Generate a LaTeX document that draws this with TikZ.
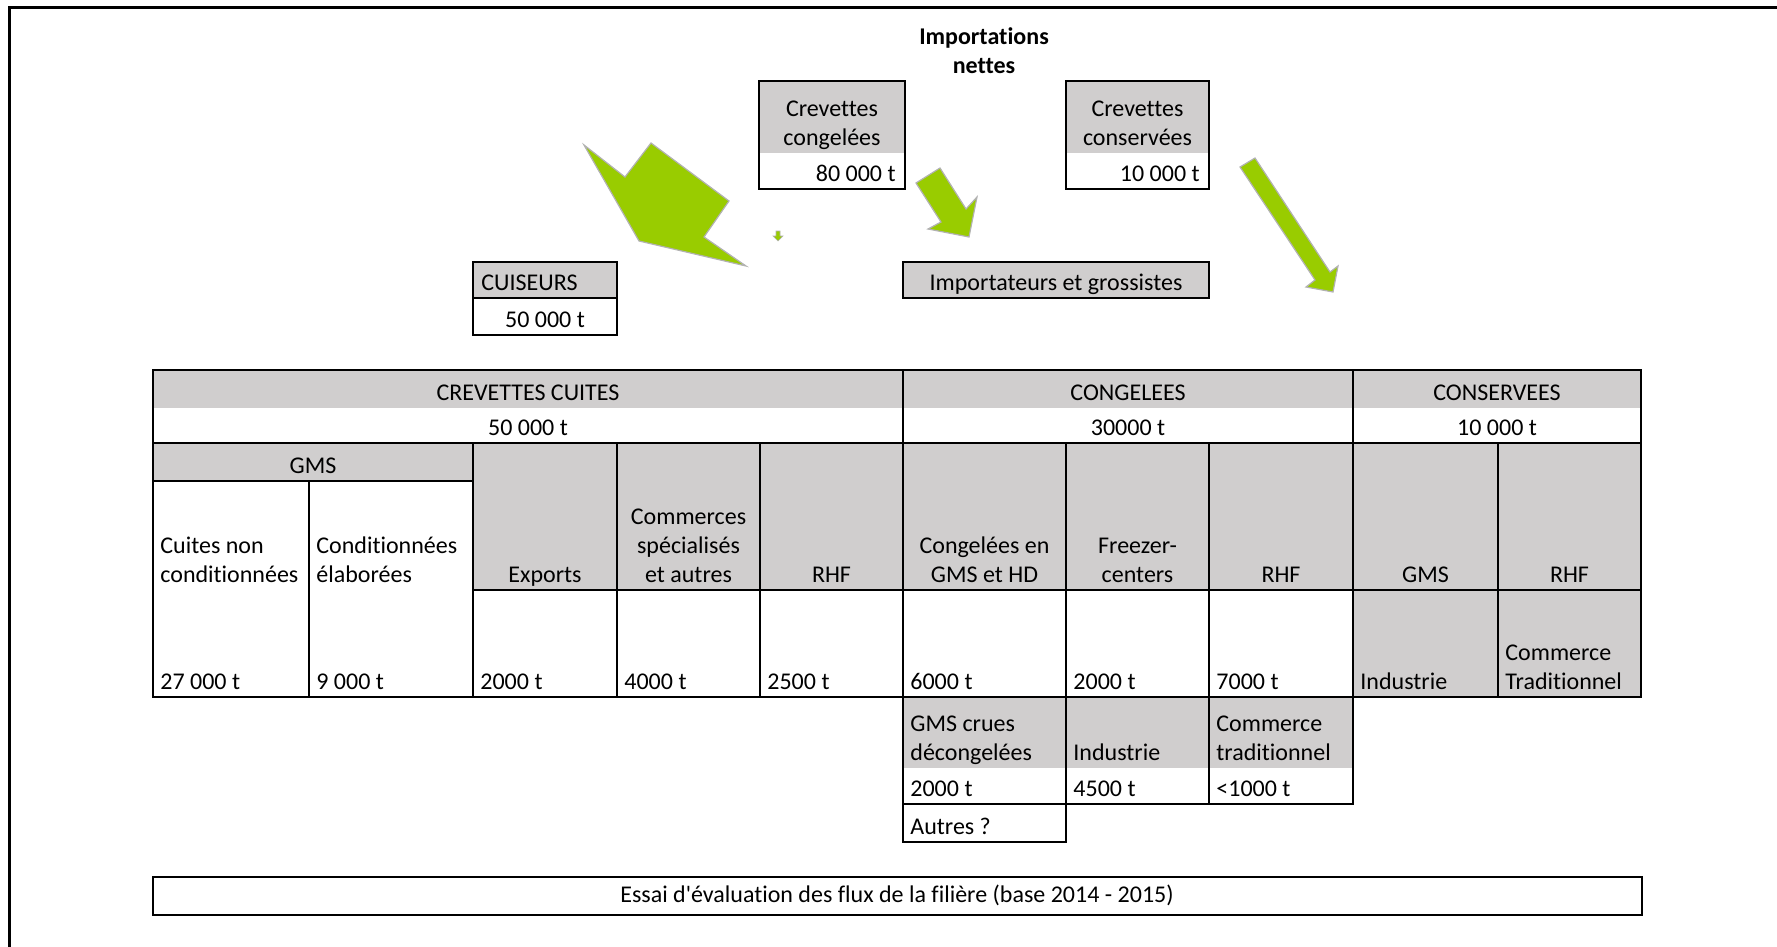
\documentclass[tikz,border=0pt]{standalone}
\usepackage{fontspec}
\setmainfont{Carlito}[Ligatures={CommonOff}]
\definecolor{cellgray}{RGB}{208,206,206}
\definecolor{limegreen}{RGB}{153,204,0}
\definecolor{rimgray}{RGB}{178,178,178}
\newcommand{\cellfont}{\fontsize{12}{14.5}\selectfont}

\begin{document}
\begin{tikzpicture}[
        x=0.5pt, y=-0.5pt,
        font=\cellfont,
        grid/.style={line width=1.1pt},
        shade/.style={fill=cellgray},
        txt/.style={inner sep=0pt, text depth=0pt, anchor=south, align=center},
        txtl/.style={txt, anchor=south west, align=left},
        txtr/.style={txt, anchor=south east, align=right},
        blockarrow/.style={fill=limegreen, draw=rimgray, line width=0.6pt, line join=miter}
    ]
        \useasboundingbox (0,0) rectangle (1777,947);
        \draw[line width=1.5pt] (9,947) -- (9,8) -- (1777,8);

        % imports
        \node[txt, font=\cellfont\bfseries] (impnet) at (984,74) {Importations\\ nettes};
        \fill[shade] (759,81) rectangle (905,153);
        \draw[grid] (759,81) rectangle (905,189);
        \node[txt] (crevcong) at (832,146) {Crevettes\\ congelées};
        \node[txtr] (crevcongval) at (896,182) {80 000 t};
        \fill[shade] (1066,81) rectangle (1209,153);
        \draw[grid] (1066,81) rectangle (1209,189);
        \node[txt] (crevcons) at (1137.5,146) {Crevettes\\ conservées};
        \node[txtr] (crevconsval) at (1200,182) {10 000 t};

        \fill[shade] (473,262) rectangle (617,298);
        \draw[grid] (473,262) rectangle (617,335) (473,298) -- (617,298);
        \node[txtl] (cuiseurs) at (481,291) {CUISEURS};
        \node[txt] (cuiseursval) at (545,328) {50 000 t};
        \filldraw[grid, shade] (903,262) rectangle (1209,298);
        \node[txt] (importateurs) at (1056,291) {Importateurs et grossistes};

        % green arrows
        \filldraw[blockarrow] (584,145) -- (625,177) -- (651,143) -- (729,201) -- (704,237) -- (746,266) -- (639,241) -- cycle;
        \filldraw[blockarrow, line width=0.3pt] (776,231) -- (780,231) -- (780,236) -- (783,236) -- (778,241) -- (773,236) -- (776,236) -- cycle;
        \filldraw[blockarrow] (916,183) -- (940,168) -- (966,209) -- (977,197) -- (969,237) -- (928,229) -- (941,222) -- cycle;
        \filldraw[blockarrow] (1240,167) -- (1255,158) -- (1330,272) -- (1338,266) -- (1333,292) -- (1306,287) -- (1315,280) -- cycle;

        % main table
        \fill[shade] (153,370) rectangle (1641,408);
        \fill[shade] (153,443) rectangle (473,481);
        \fill[shade] (473,443) rectangle (1641,590);
        \fill[shade] (1353,590) rectangle (1641,697);
        \draw[grid] (153,370) rectangle (1641,697);
        \draw[grid] (153,443) -- (1641,443) (153,481) -- (473,481) (473,590) -- (1641,590);
        \draw[grid] (903,370) -- (903,697) (1353,370) -- (1353,697) (309,481) -- (309,697);
        \draw[grid] (473,443) -- (473,697) (617,443) -- (617,697) (760,443) -- (760,697);
        \draw[grid] (1066,443) -- (1066,697) (1209,443) -- (1209,697) (1498,443) -- (1498,697);

        \node[txt] (cuites) at (528,401) {CREVETTES CUITES};
        \node[txt] (congelees) at (1128,401) {CONGELEES};
        \node[txt] (conservees) at (1497,401) {CONSERVEES};
        \node[txt] (cuitesval) at (528,436) {50 000 t};
        \node[txt] (congeleesval) at (1128,436) {30000 t};
        \node[txt] (conserveesval) at (1497,436) {10 000 t};
        \node[txt] (gms) at (313,474) {GMS};

        \node[txtl] (nonconds) at (160,583) {Cuites non\\ conditionnées};
        \node[txtl] (elabs) at (316,583) {Conditionnées\\ élaborées};
        \node[txt] (exports) at (545,583) {Exports};
        \node[txt] (commerces) at (688.5,583) {Commerces\\ spécialisés\\ et autres};
        \node[txt] (rhfcuites) at (831.5,583) {RHF};
        \node[txt] (gmshd) at (984.5,583) {Congelées en\\ GMS et HD};
        \node[txt] (freezer) at (1137.5,583) {Freezer-\\ centers};
        \node[txt] (rhfcong) at (1281,583) {RHF};
        \node[txt] (gmscons) at (1425.5,583) {GMS};
        \node[txt] (rhfcons) at (1569.5,583) {RHF};

        \node[txtl] (noncondsval) at (160,690) {27 000 t};
        \node[txtl] (elabsval) at (316,690) {9 000 t};
        \node[txtl] (exportsval) at (480,690) {2000 t};
        \node[txtl] (commercesval) at (624,690) {4000 t};
        \node[txtl] (rhfcuitesval) at (767,690) {2500 t};
        \node[txtl] (gmshdval) at (910,690) {6000 t};
        \node[txtl] (freezerval) at (1073,690) {2000 t};
        \node[txtl] (rhfcongval) at (1216,690) {7000 t};
        \node[txtl] (gmsconsval) at (1360,690) {Industrie};
        \node[txtl] (rhfconsval) at (1505,690) {Commerce\\ Traditionnel};

        % frozen sub rows
        \fill[shade] (903,697) rectangle (1353,768);
        \draw[grid] (903,697) rectangle (1353,804) (1066,697) -- (1066,804) (1209,697) -- (1209,804);
        \draw[grid] (903,804) rectangle (1066,842);
        \node[txtl] (crues) at (910,761) {GMS crues\\ décongelées};
        \node[txtl] (industrie) at (1073,761) {Industrie};
        \node[txtl] (tradi) at (1216,761) {Commerce\\ traditionnel};
        \node[txtl] (cruesval) at (910,797) {2000 t};
        \node[txtl] (industrieval) at (1073,797) {4500 t};
        \node[txtl] (tradival) at (1216,797) {<1000 t};
        \node[txtl] (autres) at (910,835) {Autres ?};

        \draw[grid] (153,877) rectangle (1642,915);
        \node[txt] (caption) at (897,903) {Essai d\textquotesingle évaluation des flux de la filière (base 2014 - 2015)};
\end{tikzpicture}
\end{document}
